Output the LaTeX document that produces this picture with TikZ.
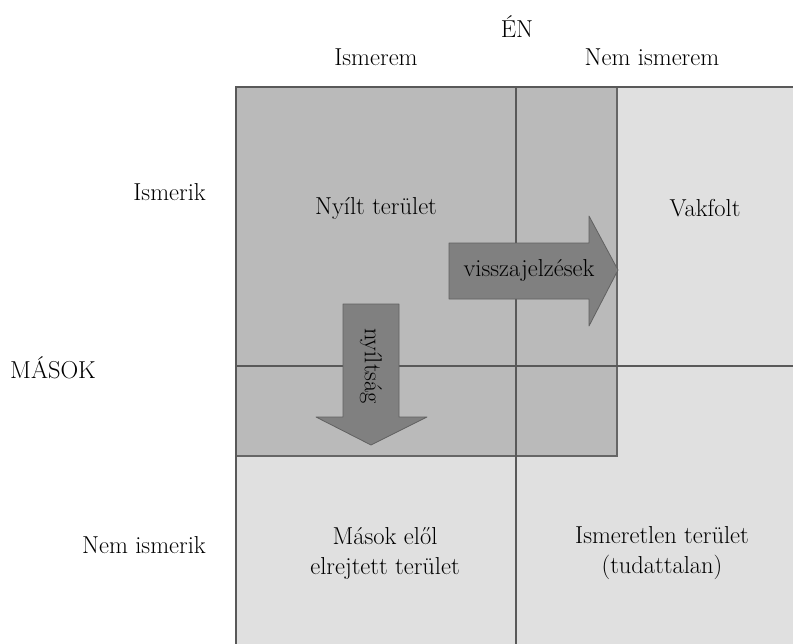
\documentclass[tikz,border=0pt]{standalone}
\usepackage{fontspec}
\begin{document}
\begin{tikzpicture}[x=1pt,y=-1pt,
  lbl/.style={font=\fontsize{24.5}{30}\selectfont, inner sep=0pt, align=center},
  gridline/.style={draw=black!65, line width=1.4pt},
  lightcell/.style={fill=black!12},
  overlay/.style={fill=black!27, draw=black!60, line width=1.2pt},
  arrowshape/.style={fill=black!50, draw=black!62, line width=0.8pt, line join=round}]
\useasboundingbox (0,0) rectangle (793,643);
\clip (0,0) rectangle (793,643);
% light quadrants
\fill[lightcell] (236,87) rectangle (810,660);
% overlay (open area enlarged)
\draw[overlay] (236,87) rectangle (617,456);
% grid lines
\draw[gridline] (236,660) -- (236,87) -- (810,87);
\draw[gridline] (516,87) -- (516,660);
\draw[gridline] (236,366) -- (810,366);
% arrows
\draw[arrowshape] (449,243) -- (589,243) -- (589,216) -- (618,270) -- (589,326) -- (589,299) -- (449,299) -- cycle;
\draw[arrowshape] (343,304) -- (399,304) -- (399,417) -- (427,417) -- (371,445) -- (316,417) -- (343,417) -- cycle;
% labels
\node[lbl] (en) at (517,27) {ÉN};
\node[lbl] (ismerem) at (376,57) {Ismerem};
\node[lbl] (nemismerem) at (652,57) {Nem ismerem};
\node[lbl, anchor=east] (ismerik) at (206,192) {Ismerik};
\node[lbl, anchor=west] (masok) at (10,368) {MÁSOK};
\node[lbl, anchor=east] (nemismerik) at (206,545) {Nem ismerik};
\node[lbl] (nyilt) at (376,208) {Nyílt terület};
\node[lbl] (vakfolt) at (705,208) {Vakfolt};
\node[lbl] (vissza) at (529,270) {visszajelzések};
\node[lbl, rotate=-90] (nyiltsag) at (371,366) {nyíltság};
\node[lbl] (rejtett) at (385,553) {Mások elől\\elrejtett terület};
\node[lbl] (ismeretlen) at (662,553) {Ismeretlen terület\\(tudattalan)};
\end{tikzpicture}
\end{document}
